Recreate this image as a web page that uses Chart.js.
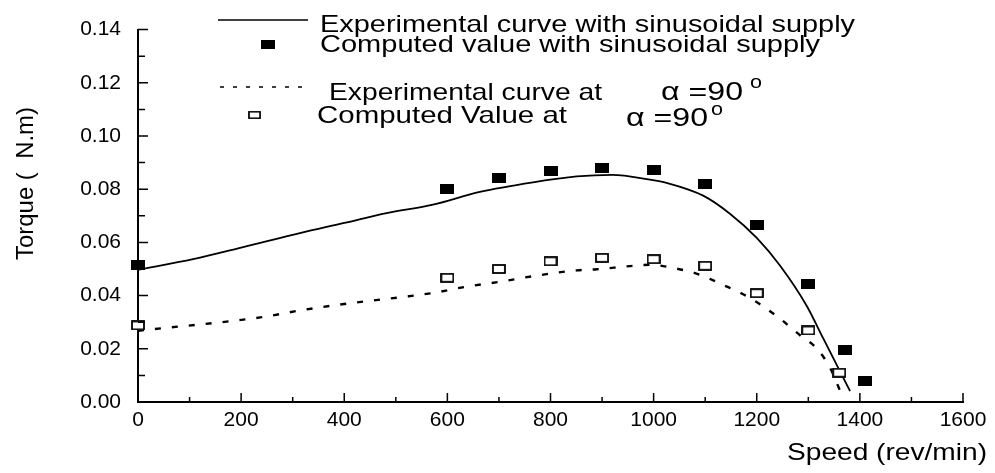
<!DOCTYPE html>
<html>
<head>
<meta charset="utf-8">
<script src="https://cdn.jsdelivr.net/npm/chart.js@4.4.0/dist/chart.umd.min.js"></script>
<style>
  html, body { margin: 0; padding: 0; background: #fff; }
  #wrap { width: 995px; height: 473px; }
</style>
</head>
<body>
<div id="wrap"><canvas id="chart" width="995" height="473"></canvas></div>
<script>
const FONT = '"Liberation Sans", Arial, sans-serif';

// computed torque, sinusoidal supply
const speedCompSin = [0, 600, 700, 800, 900, 1000, 1100, 1200, 1300, 1372, 1410];
const torqueCompSin = [0.0515, 0.0801, 0.0841, 0.0870, 0.0878, 0.0874, 0.0821, 0.0666, 0.0445, 0.0197, 0.0078];

// computed torque, alpha = 90
const speedCompAlpha = [0, 600, 700, 800, 900, 1000, 1100, 1200, 1300, 1360];
const torqueCompAlpha = [0.0288, 0.0467, 0.0500, 0.0529, 0.0542, 0.0537, 0.0512, 0.0409, 0.0269, 0.0110];

// measured curve, sinusoidal supply
const speedExpSin = [0, 107, 200, 314, 400, 482, 572, 663, 766, 851, 919, 993, 1025, 1097, 1148, 1200, 1245, 1297, 1329, 1381];
const torqueExpSin = [0.0497, 0.0537, 0.0580, 0.0635, 0.0673, 0.0710, 0.0742, 0.0790, 0.0826, 0.0848, 0.0854, 0.0836, 0.0824, 0.0775, 0.0708, 0.0617, 0.0513, 0.0361, 0.0239, 0.0041];

// measured curve, alpha = 90
const speedExpAlpha = [0, 237, 320, 418, 514, 572, 638, 702, 766, 851, 890, 954, 993, 1045, 1083, 1135, 1187, 1238, 1284, 1316, 1342, 1365];
const torqueExpAlpha = [0.0268, 0.0318, 0.0346, 0.0373, 0.0395, 0.0410, 0.0434, 0.0452, 0.0473, 0.0495, 0.0499, 0.0511, 0.0516, 0.0501, 0.0483, 0.0440, 0.0391, 0.0324, 0.0251, 0.0202, 0.0129, 0.0026];

const xTicks = [0, 200, 400, 600, 800, 1000, 1200, 1400, 1600];
const yTicks = [0, 0.02, 0.04, 0.06, 0.08, 0.10, 0.12, 0.14];

function pairs(xs, ys) {
    return xs.map((x, i) => ({ x: x, y: ys[i] }));
}

// small rectangular markers
function makeMarker(w, h, filled) {
    const c = document.createElement('canvas');
    c.width = w;
    c.height = h;
    const g = c.getContext('2d');
    if (filled) {
        g.fillStyle = '#000';
        g.fillRect(0, 0, w, h);
    } else {
        g.fillStyle = '#fff';
        g.fillRect(0, 0, w, h);
        g.strokeStyle = '#000';
        g.lineWidth = 1.8;
        g.strokeRect(1, 1, w - 2, h - 2);
    }
    return c;
}

const filledMark = makeMarker(14, 10, true);
const openMark = makeMarker(14, 10, false);

// text squeezed/stretched to a given width
function drawText(ctx, str, x, y, size, width, align) {
    ctx.font = size + 'px ' + FONT;
    const w = ctx.measureText(str).width;
    ctx.save();
    ctx.translate(x, y);
    ctx.scale(width ? width / w : 1, 1);
    ctx.textAlign = align || 'left';
    ctx.textBaseline = 'alphabetic';
    ctx.fillStyle = '#000';
    ctx.fillText(str, 0, 0);
    ctx.restore();
}

// inward major + minor tick marks
const tickMarks = {
    id: 'tickMarks',
    afterDraw(chart) {
        const ctx = chart.ctx;
        const xs = chart.scales.x, ys = chart.scales.y;
        const area = chart.chartArea;
        ctx.save();
        ctx.strokeStyle = '#000';
        ctx.lineWidth = 1.5;
        ctx.beginPath();
        for (let v = 0; v <= 1600; v += 100) {
            const px = xs.getPixelForValue(v);
            const len = v % 200 === 0 ? 9 : 5;
            ctx.moveTo(px, area.bottom);
            ctx.lineTo(px, area.bottom - len);
        }
        for (let k = 0; k <= 14; k++) {
            const py = ys.getPixelForValue(k / 100);
            const len = k % 2 === 0 ? 10 : 7;
            ctx.moveTo(area.left, py);
            ctx.lineTo(area.left + len, py);
        }
        ctx.stroke();
        ctx.restore();
    }
};

// legend block and axis titles
const legendAndTitles = {
    id: 'legendAndTitles',
    afterDraw(chart) {
        const ctx = chart.ctx;
        ctx.save();
        ctx.strokeStyle = '#000';

        ctx.lineWidth = 1.5;
        ctx.beginPath();
        ctx.moveTo(218, 20);
        ctx.lineTo(308, 20);
        ctx.stroke();
        drawText(ctx, 'Experimental curve with sinusoidal supply', 320, 32, 24, 535);

        ctx.drawImage(filledMark, 261, 40, 14, 9);
        drawText(ctx, 'Computed value with sinusoidal supply', 320, 52, 24, 500);

        ctx.lineWidth = 1.6;
        ctx.setLineDash([4, 9]);
        ctx.beginPath();
        ctx.moveTo(220, 87);
        ctx.lineTo(308, 87);
        ctx.stroke();
        ctx.setLineDash([]);
        drawText(ctx, 'Experimental curve at', 329, 100, 24, 273);
        drawText(ctx, '\u03b1 =90', 661, 100, 25, 82);
        drawText(ctx, 'o', 750, 88, 18, 12);

        ctx.drawImage(openMark, 248, 111, 13, 8);
        drawText(ctx, 'Computed Value at', 317, 123, 24, 250);
        drawText(ctx, '\u03b1 =90', 626, 126, 25, 82);
        drawText(ctx, 'o', 711, 115, 18, 12);

        // axis titles
        drawText(ctx, 'Speed (rev/min)', 787, 460, 24, 200);
        ctx.translate(33, 260);
        ctx.rotate(-Math.PI / 2);
        drawText(ctx, 'Torque (  N.m)', 0, 0, 24, 153);
        ctx.restore();
    }
};

new Chart(document.getElementById('chart'), {
    type: 'scatter',
    data: {
        datasets: [
            {
                label: 'Computed value with sinusoidal supply',
                data: pairs(speedCompSin, torqueCompSin),
                showLine: false,
                pointStyle: filledMark,
                pointRadius: 6,
                clip: false,
                order: 0
            },
            {
                label: 'Computed Value at \u03b1 =90 o',
                data: pairs(speedCompAlpha, torqueCompAlpha),
                showLine: false,
                pointStyle: openMark,
                pointRadius: 6,
                clip: false,
                order: 1
            },
            {
                label: 'Experimental curve with sinusoidal supply',
                data: pairs(speedExpSin, torqueExpSin),
                showLine: true,
                borderColor: '#000',
                borderWidth: 1.8,
                pointRadius: 0,
                cubicInterpolationMode: 'monotone',
                clip: false,
                order: 2
            },
            {
                label: 'Experimental curve at \u03b1 =90 o',
                data: pairs(speedExpAlpha, torqueExpAlpha),
                showLine: true,
                borderColor: '#000',
                borderWidth: 2.4,
                borderDash: [6, 11],
                pointRadius: 0,
                cubicInterpolationMode: 'monotone',
                clip: false,
                order: 3
            }
        ]
    },
    options: {
        responsive: false,
        animation: false,
        layout: { padding: { left: 0, right: 32, top: 19, bottom: 0 } },
        plugins: {
            legend: { display: false },
            tooltip: { enabled: false }
        },
        scales: {
            x: {
                type: 'linear',
                min: 0,
                max: 1600,
                afterFit: s => { s.height = 71; },
                afterBuildTicks: s => { s.ticks = xTicks.map(v => ({ value: v })); },
                grid: { display: false, drawTicks: false },
                border: { display: true, color: '#000', width: 2 },
                ticks: {
                    color: '#000',
                    padding: 6,
                    font: { family: FONT, size: 21 },
                    callback: v => String(v)
                }
            },
            y: {
                type: 'linear',
                min: 0,
                max: 0.14,
                afterFit: s => { s.width = 138; },
                afterBuildTicks: s => { s.ticks = yTicks.map(v => ({ value: v })); },
                grid: { display: false, drawTicks: false },
                border: { display: true, color: '#000', width: 2 },
                ticks: {
                    color: '#000',
                    padding: 17,
                    font: { family: FONT, size: 21 },
                    callback: v => v.toFixed(2)
                }
            }
        }
    },
    plugins: [tickMarks, legendAndTitles]
});
</script>
</body>
</html>
